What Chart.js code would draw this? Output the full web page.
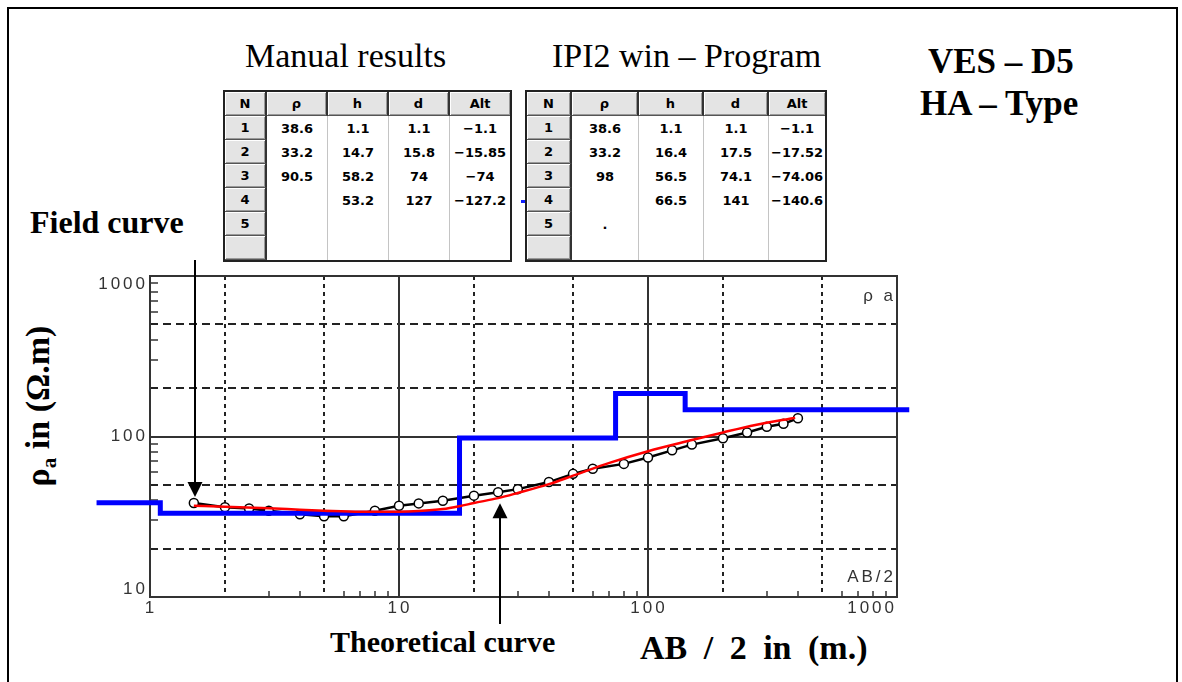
<!DOCTYPE html>
<html>
<head>
<meta charset="utf-8">
<script src="https://cdn.jsdelivr.net/npm/chart.js@4.4.0/dist/chart.umd.min.js"></script>
<style>
  body { margin: 0; background: #fff; width: 1182px; height: 682px; overflow: hidden; position: relative;
         font-family: "Liberation Serif", "Times New Roman", serif; }
  #frame { position: absolute; left: 7px; top: 7px; width: 1171px; height: 700px; border: 2px solid #000; box-sizing: border-box; }
  .t { position: absolute; white-space: nowrap; line-height: 1; color: #000; }
  .b { font-weight: bold; }
  table.res { position: absolute; top: 90px; border-collapse: separate; border-spacing: 0; table-layout: fixed;
              border: 2px solid #222; font: bold 13px "DejaVu Sans", sans-serif; color: #000; background: #fff; }
  table.res td, table.res th { height: 24px; padding: 0; text-align: center; box-sizing: border-box; font-weight: bold; }
  table.res th, table.res td.n { background: #e4e4e4; border-right: 2px solid #333; border-bottom: 1px solid #555;
              box-shadow: inset 1px 1px #fff, inset -1px -1px #999; }
  table.res th:last-child { border-right: none; }
  table.res td.v { border-right: 1px solid #c4c4c4; }
  table.res td.v:last-child { border-right: none; }
  #c { position: absolute; left: 0; top: 0; }
</style>
</head>
<body>
<div id="frame"></div>

<div class="t" style="left:245px;top:39px;font-size:34px;">Manual results</div>
<div class="t" style="left:552px;top:39px;font-size:34px;">IPI2 win – Program</div>
<div class="t b" style="left:928px;top:44px;font-size:35px;">VES – D5</div>
<div class="t b" style="left:920px;top:86px;font-size:35px;">HA – Type</div>

<table class="res" id="tManual" style="left:223px;"></table>
<table class="res" id="tProgram" style="left:525px;"></table>
<div style="position:absolute;left:521px;top:200px;width:4px;height:3px;background:#1020ff;"></div>

<div class="t b" style="left:30px;top:206px;font-size:32px;">Field curve</div>
<div class="t b" style="left:38px;top:406px;font-size:34px;transform:translate(-50%,-50%) rotate(-90deg);">ρ<span style="font-size:21px;position:relative;top:7px;">a</span> in (Ω.m)</div>
<div class="t b" style="left:330px;top:627px;font-size:30px;">Theoretical curve</div>
<div class="t b" style="left:640px;top:631px;font-size:34px;word-spacing:8px;">AB / 2 in (m.)</div>

<canvas id="c" width="1182" height="682"></canvas>

<script>
// layered results shown in the two tables
const tableCols = ['N', 'ρ', 'h', 'd', 'Alt'];
const manualRows = [
  ['1', '38.6', '1.1', '1.1', '−1.1'],
  ['2', '33.2', '14.7', '15.8', '−15.85'],
  ['3', '90.5', '58.2', '74', '−74'],
  ['4', '', '53.2', '127', '−127.2'],
  ['5', '', '', '', ''],
  ['', '', '', '', '']
];
const programRows = [
  ['1', '38.6', '1.1', '1.1', '−1.1'],
  ['2', '33.2', '16.4', '17.5', '−17.52'],
  ['3', '98', '56.5', '74.1', '−74.06'],
  ['4', '', '66.5', '141', '−140.6'],
  ['5', '.', '', '', ''],
  ['', '', '', '', '']
];
const manualWidths = [42, 61, 61, 61, 60];
const programWidths = [45, 67, 65, 65, 56];

// field sounding (AB/2 in m, apparent resistivity in ohm.m)
const fieldAB  = [1.5, 2, 2.5, 3, 4, 5, 6, 8, 10, 12, 15, 20, 25, 30, 40, 50, 60, 80, 100, 125, 150, 200, 250, 300, 350, 400];
const fieldRho = [38.5, 36.3, 35.6, 34.5, 32.8, 31.8, 31.8, 34.5, 37.0, 38.3, 39.8, 42.8, 45.0, 47.0, 52.0, 58.5, 63.0, 67.5, 74.0, 82.0, 89.0, 97.5, 106, 115, 120, 130];

// theoretical (model) curve
const theoAB  = [1.5, 2, 3, 4, 5, 7, 10, 12, 15, 17.5, 20, 25, 30, 40, 50, 70, 100, 150, 200, 270, 390];
const theoRho = [37.0, 36.5, 35.7, 35.0, 34.5, 34.0, 34.0, 34.3, 35.3, 36.8, 38.5, 41.3, 44.5, 50.5, 57.0, 68.5, 81.0, 95.0, 106, 118, 131];

// layered model (blue step curve)
const layerDepth = [1.1, 17.5, 74.1, 141];
const layerRho   = [38.6, 33.2, 98, 185, 147];
const modelStart = 0.61, modelEnd = 1120;

// axes
const xTickVals = [1, 10, 100, 1000];
const yTickVals = [10, 100, 1000];
const xDotted = [2, 5, 20, 50, 200, 500];
const yDashed = [20, 50, 200, 500];
const xSolid = [10, 100];
const ySolid = [100];
const xMinor = [3, 4, 6, 7, 8, 9, 30, 40, 60, 70, 80, 90, 300, 400, 600, 700, 800, 900];
const yMinor = [30, 40, 60, 70, 80, 90, 300, 400, 600, 700, 800, 900];

function fillTable(id, rows, widths) {
  const t = document.getElementById(id);
  let html = '<colgroup>' + widths.map(w => '<col style="width:' + w + 'px">').join('') + '</colgroup>';
  html += '<tr>' + tableCols.map(c => '<th>' + c + '</th>').join('') + '</tr>';
  rows.forEach(r => {
    html += '<tr>' + r.map((v, i) => '<td class="' + (i === 0 ? 'n' : 'v') + '">' + v + '</td>').join('') + '</tr>';
  });
  t.innerHTML = html;
  t.style.width = widths.reduce((a, b) => a + b, 0) + 'px';
}
fillTable('tManual', manualRows, manualWidths);
fillTable('tProgram', programRows, programWidths);

const modelPts = [{x: modelStart, y: layerRho[0]}];
layerDepth.forEach((d, i) => {
  modelPts.push({x: d, y: layerRho[i]}, {x: d, y: layerRho[i + 1]});
});
modelPts.push({x: modelEnd, y: layerRho[layerRho.length - 1]});

const vesGrid = {
  id: 'vesGrid',
  beforeDatasetsDraw(chart) {
    const {ctx, chartArea: a, scales: {x, y}} = chart;
    const vline = (v, top, bot) => { const p = Math.round(x.getPixelForValue(v)); ctx.beginPath(); ctx.moveTo(p, top); ctx.lineTo(p, bot); ctx.stroke(); };
    const hline = (v, l, r) => { const p = Math.round(y.getPixelForValue(v)); ctx.beginPath(); ctx.moveTo(l, p); ctx.lineTo(r, p); ctx.stroke(); };
    ctx.save();
    ctx.strokeStyle = '#222';
    ctx.lineWidth = 2;
    ctx.setLineDash([4, 4]);
    xDotted.forEach(v => vline(v, a.top, a.bottom));
    ctx.setLineDash([8, 5]);
    yDashed.forEach(v => hline(v, a.left, a.right));
    ctx.setLineDash([]);
    ctx.strokeStyle = '#333';
    xSolid.forEach(v => vline(v, a.top, a.bottom));
    ySolid.forEach(v => hline(v, a.left, a.right));
    ctx.lineWidth = 1.5;
    xMinor.forEach(v => vline(v, a.bottom - 6, a.bottom));
    yMinor.forEach(v => hline(v, a.left, a.left + 8));
    ctx.lineWidth = 2;
    ctx.strokeRect(a.left, a.top, a.right - a.left, a.bottom - a.top);

    ctx.fillStyle = '#333';
    ctx.font = '17px "Liberation Sans", Arial, sans-serif';
    ctx.letterSpacing = '3px';
    ctx.textBaseline = 'middle';
    ctx.textAlign = 'right';
    yTickVals.forEach(v => {
      const p = Math.min(Math.max(y.getPixelForValue(v), a.top + 8), a.bottom - 8);
      ctx.fillText(String(v), a.left - 2, p);
    });
    ctx.textAlign = 'center';
    xTickVals.forEach(v => {
      const s = String(v);
      const w = ctx.measureText(s).width;
      const p = Math.min(x.getPixelForValue(v), a.right - w / 2 - 1);
      ctx.fillText(s, p + 1, a.bottom + 11);
    });
    ctx.textAlign = 'right';
    ctx.fillText('AB/2', a.right - 1, a.bottom - 20);
    ctx.fillText('ρ a', a.right - 1, a.top + 20);
    ctx.restore();
  },
  afterDatasetsDraw(chart) {
    const {ctx, scales: {x, y}} = chart;
    const arrow = (px, from, tip) => {
      const dir = tip > from ? 1 : -1;
      ctx.beginPath(); ctx.moveTo(px, from); ctx.lineTo(px, tip - dir * 12); ctx.stroke();
      ctx.beginPath(); ctx.moveTo(px, tip); ctx.lineTo(px - 7.5, tip - dir * 15); ctx.lineTo(px + 7.5, tip - dir * 15); ctx.closePath(); ctx.fill();
    };
    ctx.save();
    ctx.strokeStyle = '#000'; ctx.fillStyle = '#000'; ctx.lineWidth = 2;
    // arrow to first field reading
    arrow(Math.round(x.getPixelForValue(fieldAB[0])) + 1, 260, y.getPixelForValue(fieldRho[0]) - 6);
    // arrow to the theoretical curve at AB/2 = 25 m
    const k = theoAB.indexOf(25);
    arrow(Math.round(x.getPixelForValue(theoAB[k])) + 2, 624, y.getPixelForValue(theoRho[k]) + 5);
    ctx.restore();
  }
};

new Chart(document.getElementById('c'), {
  type: 'scatter',
  data: {
    datasets: [
      {
        label: 'Theoretical curve',
        data: theoAB.map((v, i) => ({x: v, y: theoRho[i]})),
        showLine: true, borderColor: '#ff0000', borderWidth: 2.5, pointRadius: 0,
        cubicInterpolationMode: 'monotone', order: 0
      },
      {
        label: 'Layered model',
        data: modelPts,
        showLine: true, borderColor: '#0000ff', borderWidth: 5, pointRadius: 0,
        borderJoinStyle: 'miter', clip: false, order: 1
      },
      {
        label: 'Field curve',
        data: fieldAB.map((v, i) => ({x: v, y: fieldRho[i]})),
        showLine: true, borderColor: '#000', borderWidth: 2.5,
        pointRadius: 4.5, pointBackgroundColor: '#fff', pointBorderColor: '#000', pointBorderWidth: 1.5,
        order: 2
      }
    ]
  },
  options: {
    responsive: false,
    animation: false,
    devicePixelRatio: 1,
    layout: { padding: { left: 150, top: 276, right: 285, bottom: 85 } },
    scales: {
      x: { type: 'logarithmic', min: 1, max: 1000, display: false },
      y: { type: 'logarithmic', min: 10, max: 1000, display: false }
    },
    plugins: { legend: { display: false }, tooltip: { enabled: false } }
  },
  plugins: [vesGrid]
});
</script>
</body>
</html>
